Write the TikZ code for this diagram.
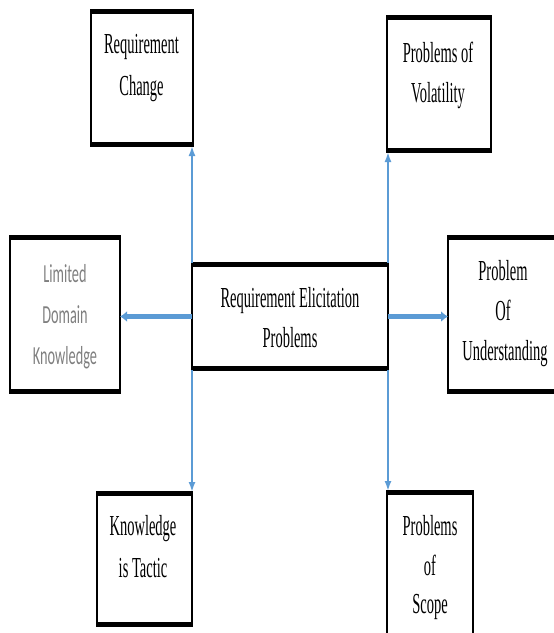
\documentclass[tikz,border=0pt]{standalone}
\usepackage{fontspec}
\newfontfamily\boxfont{Liberation Serif}[FakeStretch=0.5]
\newfontfamily\grayfont{Carlito}[FakeStretch=0.55]
\usetikzlibrary{arrows.meta}
\definecolor{arrowblue}{HTML}{5B9BD5}
\definecolor{txtgray}{HTML}{7F7F7F}
\begin{document}
\begin{tikzpicture}[x=1pt,y=-1pt,
  box/.style={draw=black,line width=2pt,inner sep=0pt,outer sep=0pt,anchor=north west,rectangle},
  bar/.style={line width=5pt,black,shorten <=-1pt,shorten >=-1pt},
  lbl/.style={anchor=base,inner sep=0pt,font=\boxfont\fontsize{29pt}{34pt}\selectfont},
  glbl/.style={anchor=base,inner sep=0pt,text=txtgray,font=\grayfont\fontsize{26pt}{30pt}\selectfont},
  varrow/.style={arrowblue,line width=1.8pt,-{Latex[length=10pt,width=7pt]}},
  harrow/.style={arrowblue,line width=4.5pt,-{Latex[length=7pt,width=11pt]}}]
\useasboundingbox (0,0) rectangle (554,633);

\node[box,minimum width=102pt,minimum height=136pt] (rc)  at (91,10)  {};
\node[box,minimum width=104pt,minimum height=136pt] (vol) at (387,16) {};
\node[box,minimum width=196pt,minimum height=107pt] (cen) at (192,263) {};
\node[box,minimum width=110pt,minimum height=157pt] (lim) at (10,236) {};
\node[box,minimum width=116pt,minimum height=157pt] (und) at (448,236) {};
\node[box,minimum width=95pt,minimum height=134pt]  (kn)  at (97,492) {};
\node[box,minimum width=86pt,minimum height=160pt]  (sc)  at (387,491) {};

\foreach \b in {rc,vol,cen,lim,und,kn,sc}{
  \draw[bar] ([yshift=-1.5pt]\b.north west) -- ([yshift=-1.5pt]\b.north east);
  \draw[bar] ([yshift=1.5pt]\b.south west) -- ([yshift=1.5pt]\b.south east);
}

\node[lbl] (rc1) at (141.5,53) {Requirement};
\node[lbl] (rc2) at (141.5,95) {Change};
\node[lbl] (vol1) at (438,62) {Problems of};
\node[lbl] (vol2) at (438,102) {Volatility};
\node[lbl] (cen1) at (290,307) {Requirement Elicitation};
\node[lbl] (cen2) at (290,347) {Problems};
\node[glbl] (lim1) at (65,282) {Limited};
\node[glbl] (lim2) at (65,323) {Domain};
\node[glbl] (lim3) at (65,364) {Knowledge};
\node[lbl] (und1) at (503,280) {Problem};
\node[lbl] (und2) at (503,320) {Of};
\node[lbl] (und3) at (505,360) {Understanding};
\node[lbl] (kn1) at (143,535) {Knowledge};
\node[lbl] (kn2) at (143,577) {is Tactic};
\node[lbl] (sc1) at (430,535) {Problems};
\node[lbl] (sc2) at (430,575) {of};
\node[lbl] (sc3) at (430,613) {Scope};

\draw[varrow] (cen.north west) -- (cen.north west |- rc.south);
\draw[varrow] (cen.north east) -- (cen.north east |- vol.south);
\draw[varrow] (cen.south west) -- (cen.south west |- kn.north);
\draw[varrow] (cen.south east) -- (cen.south east |- sc.north);
\draw[harrow] (cen.west) -- (cen.west -| lim.east);
\draw[harrow] (cen.east) -- (cen.east -| und.west);
\end{tikzpicture}
\end{document}
